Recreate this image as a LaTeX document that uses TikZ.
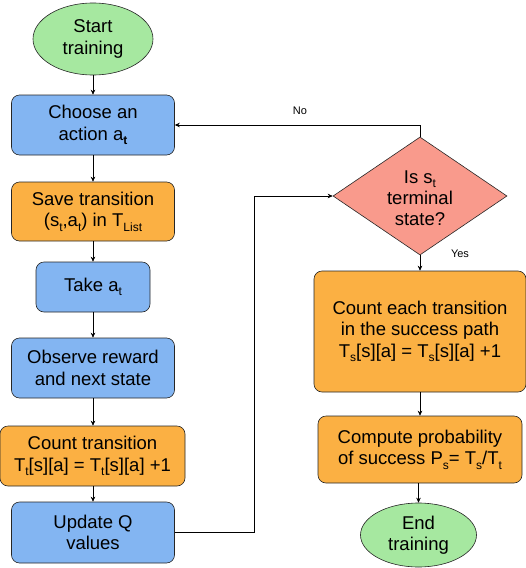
\documentclass[tikz,border=0pt]{standalone}
\usepackage{fontspec}
\setmainfont{Liberation Sans}
\usetikzlibrary{shapes.geometric,arrows.meta}
\definecolor{cgreen}{HTML}{A6E8A0}
\definecolor{cblue}{HTML}{83B5F2}
\definecolor{corange}{HTML}{FBB043}
\definecolor{cpink}{HTML}{F99A8C}
\newcommand{\sbs}[1]{\raisebox{-0.45ex}{\fontsize{12}{12}\selectfont #1}}
\begin{document}
\begin{tikzpicture}[x=1pt,y=-1pt,
  base/.style={draw=black!85,line width=0.6pt,align=center,inner sep=0pt,
    font=\fontsize{18.5}{21.5}\selectfont},
  term/.style={base,ellipse,fill=cgreen},
  bbox/.style={base,rectangle,rounded corners=8pt,fill=cblue},
  obox/.style={base,rectangle,rounded corners=8pt,fill=corange},
  dbox/.style={base,diamond,fill=cpink},
  conn/.style={line width=0.6pt,-{Stealth[length=5pt,width=4.5pt]}},
  lbl/.style={font=\fontsize{11}{11}\selectfont}]
\useasboundingbox (0,0) rectangle (526,568);
\node[term,minimum width=120,minimum height=72] (start) at (93,39) {Start\\training};
\node[bbox,minimum width=163,minimum height=60] (choose) at (93,125) {Choose an\\action a\sbs{\textbf{t}}};
\node[obox,minimum width=163,minimum height=59] (save) at (93,211.5) {Save transition\\(s\sbs{t},a\sbs{t}) in T\sbs{List}};
\node[bbox,minimum width=114,minimum height=50] (take) at (93,287) {Take a\sbs{t}};
\node[bbox,minimum width=163,minimum height=60] (obs) at (93,368) {Observe reward\\and next state};
\node[obox,minimum width=185,minimum height=60] (count) at (92.5,456) {Count transition\\T\sbs{t}[s][a] = T\sbs{t}[s][a] +1};
\node[bbox,minimum width=163,minimum height=61] (upd) at (93,532.5) {Update Q\\values};
\node[dbox,minimum width=174,minimum height=118] (dia) at (420,196) {};
\node[align=center,font=\fontsize{18.5}{21}\selectfont] at (420,198) {Is s\sbs{t}\\terminal\\state?};
\node[obox,minimum width=212,minimum height=121] (cnt2) at (420,331.5) {Count each transition\\in the success path\\T\sbs{s}[s][a] = T\sbs{s}[s][a] +1};
\node[obox,minimum width=204,minimum height=67] (comp) at (420,449.5) {Compute probability\\of success P\sbs{s}= T\sbs{s}/T\sbs{t}};
\node[term,minimum width=116,minimum height=64] (end) at (418.5,535) {End\\training};
\coordinate (c1) at (254,532.5);
\coordinate (c2) at (254,196);
\coordinate (c3) at (420,125);
\draw[conn] (start) -- (choose);
\draw[conn] (choose) -- (save);
\draw[conn] (save) -- (take);
\draw[conn] (take) -- (obs);
\draw[conn] (obs) -- (obs.south |- count.north);
\draw[conn] (count.south -| upd.north) -- (upd);
\draw[conn] (upd.east) -- (c1) -- (c2) -- (dia.west);
\draw[conn] (dia.north) -- (c3) -- (choose.east);
\draw[conn] (dia.south) -- (cnt2.north);
\draw[conn] (cnt2) -- (comp);
\draw[conn] (comp.south -| end.north) -- (end);
\node[lbl] (no) at (300,111) {No};
\node[lbl] (yes) at (460,254) {Yes};
\end{tikzpicture}
\end{document}
